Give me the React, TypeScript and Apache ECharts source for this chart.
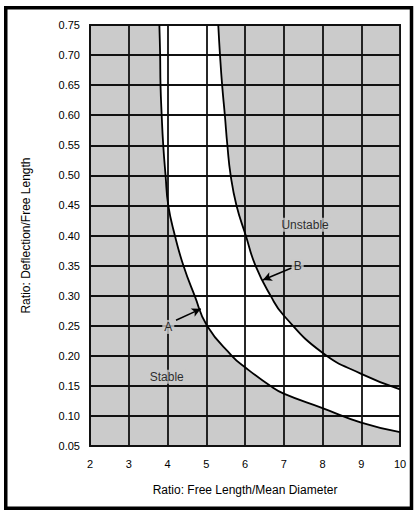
import React, { useEffect, useRef } from "react";
import * as echarts from "echarts";

// Curve A: lower stability boundary [free length / mean diameter, deflection / free length]
const curveA: [number, number][] = [
  [3.79, 0.75], [3.81, 0.7], [3.82, 0.65], [3.85, 0.6], [3.89, 0.55],
  [3.95, 0.5], [4.02, 0.45], [4.19, 0.4], [4.41, 0.35], [4.7, 0.3],
  [5.02, 0.25], [5.66, 0.2], [6.0, 0.181], [6.65, 0.15], [7.0, 0.137],
  [8.0, 0.113], [9.0, 0.089], [10.0, 0.073],
];

// Curve B: upper stability boundary
const curveB: [number, number][] = [
  [5.31, 0.75], [5.355, 0.7], [5.41, 0.65], [5.48, 0.6], [5.545, 0.55],
  [5.63, 0.5], [5.78, 0.45], [6.02, 0.4], [6.27, 0.35], [6.66, 0.3],
  [7.0, 0.267], [8.0, 0.205], [9.0, 0.17], [10.0, 0.144],
];

const xTicks = { min: 2, max: 10, step: 1 };
const yTicks = { min: 0.05, max: 0.75, step: 0.05 };

// Region captions and curve labels: [x, y, text]
const captions: [number, number, string][] = [
  [7.55, 0.418, "Unstable"],
  [3.98, 0.165, "Stable"],
  [4.02, 0.248, "A"],
  [7.36, 0.349, "B"],
];

// Leader arrows: [fromX, fromY, toX, toY]
const arrows: [number, number, number, number][] = [
  [4.22, 0.259, 4.86, 0.278],
  [7.2, 0.346, 6.46, 0.326],
];

const GRAY = "#cbcbcb";
const FONT = "Liberation Sans, Arial, sans-serif";
const SMOOTH = 0.5;

export default function App() {
  const ref = useRef<HTMLDivElement>(null);

  useEffect(() => {
    if (!ref.current) return;
    const chart = echarts.init(ref.current, undefined, { renderer: "svg" });

    const curveLine = (name: string, data: [number, number][]) => ({
      name,
      type: "line",
      data,
      smooth: SMOOTH,
      symbol: "none",
      z: 4,
      lineStyle: { color: "#000", width: 1.8 },
    });

    const curveFill = (name: string, data: [number, number][], color: string) => ({
      name,
      type: "line",
      data,
      smooth: SMOOTH,
      symbol: "none",
      z: 1,
      lineStyle: { width: 0, opacity: 0 },
      areaStyle: { color, opacity: 1, origin: "end" },
      silent: true,
    });

    chart.setOption({
      animation: false,
      backgroundColor: "#fff",
      textStyle: { fontFamily: FONT },
      graphic: [
        {
          type: "rect",
          shape: { x: 5.75, y: 7.75, width: 405.75, height: 500.5 },
          style: { fill: "none", stroke: "#000", lineWidth: 3.5 },
          z: 10,
        },
      ],
      grid: {
        left: 90,
        right: 18,
        top: 25,
        bottom: 66,
        show: true,
        backgroundColor: GRAY,
        borderColor: "#000",
        borderWidth: 1.8,
      },
      xAxis: {
        type: "value",
        min: xTicks.min,
        max: xTicks.max,
        interval: xTicks.step,
        z: 3,
        name: "Ratio: Free Length/Mean Diameter",
        nameLocation: "middle",
        nameGap: 38,
        nameTextStyle: { color: "#000", fontSize: 12, fontFamily: FONT },
        axisLine: { show: false },
        axisTick: { show: false },
        axisLabel: { color: "#000", fontSize: 11, margin: 12, fontFamily: FONT },
        splitLine: { show: true, lineStyle: { color: "#111", width: 1.8 } },
      },
      yAxis: {
        type: "value",
        min: yTicks.min,
        max: yTicks.max,
        interval: yTicks.step,
        z: 3,
        name: "Ratio: Deflection/Free Length",
        nameLocation: "middle",
        nameGap: 58,
        nameTextStyle: { color: "#000", fontSize: 12, fontFamily: FONT },
        axisLine: { show: false },
        axisTick: { show: false },
        axisLabel: {
          color: "#000",
          fontSize: 11,
          margin: 10,
          fontFamily: FONT,
          formatter: (v: number) => v.toFixed(2),
        },
        splitLine: { show: true, lineStyle: { color: "#111", width: 1.8 } },
      },
      series: [
        curveFill("band", curveA, "#ffffff"),
        curveFill("above B", curveB, GRAY),
        curveLine("A", curveA),
        curveLine("B", curveB),
        {
          name: "labels",
          type: "scatter",
          z: 6,
          symbolSize: 0,
          data: captions.map(([x, y, t]) => ({ value: [x, y], text: t })),
          label: {
            show: true,
            position: "inside",
            formatter: (p: any) => p.data.text,
            color: "#000",
            fontSize: 12,
            fontFamily: FONT,
            backgroundColor: GRAY,
            padding: [1, 2],
          },
          markLine: {
            silent: true,
            z: 6,
            symbol: ["none", "arrow"],
            symbolSize: [7, 9],
            label: { show: false },
            lineStyle: { color: "#000", width: 1.5, type: "solid" },
            data: arrows.map(([x1, y1, x2, y2]) => [
              { coord: [x1, y1] },
              { coord: [x2, y2] },
            ]),
          },
        },
      ],
    });

    return () => chart.dispose();
  }, []);

  return (
    <div
      ref={ref}
      style={{ position: "fixed", left: 0, top: 0, width: 418, height: 512 }}
    />
  );
}
